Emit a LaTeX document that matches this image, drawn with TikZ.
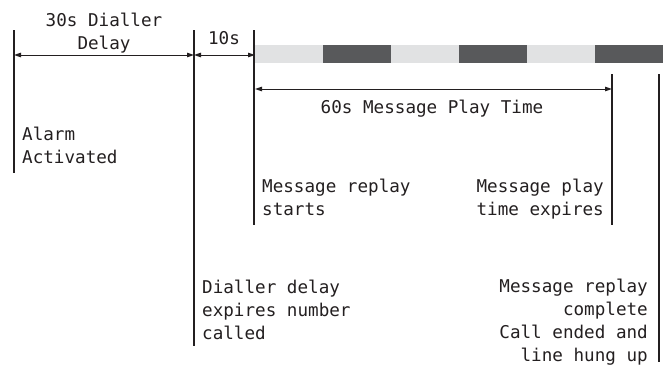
\documentclass[tikz,border=0pt]{standalone}
\usepackage{fontspec}
\setmonofont{DejaVu Sans Mono}
\usetikzlibrary{arrows.meta}
\definecolor{ink}{HTML}{231F20}
\definecolor{lightseg}{HTML}{E1E2E3}
\definecolor{darkseg}{HTML}{58595B}
\tikzset{
  vline/.style={draw=ink, line width=1.3pt},
  dim/.style={draw=ink, line width=1pt, {Triangle[length=7pt,width=4.5pt]}-{Triangle[length=7pt,width=4.5pt]}},
  dimr/.style={draw=ink, line width=1pt, {Triangle[length=7pt,width=4.5pt]}-{Triangle[length=7pt,width=4.5pt]}},
  lbl/.style={inner sep=0pt, text=ink, font=\ttfamily\fontsize{17.6}{23}\selectfont},
  lseg/.style={fill=lightseg, draw=none},
  dseg/.style={fill=darkseg, draw=none}
}
\begin{document}
\begin{tikzpicture}[x=1pt,y=-1pt]
\useasboundingbox (0,0) rectangle (666,367);
% vertical marker lines
\coordinate (a1) at (14,30);  \coordinate (a2) at (14,173);
\coordinate (b1) at (194,30); \coordinate (b2) at (194,346);
\coordinate (c1) at (254,30); \coordinate (c2) at (254,225);
\coordinate (d1) at (612,74); \coordinate (d2) at (612,225);
\coordinate (e1) at (659,74); \coordinate (e2) at (659,362);
\draw[vline] (a1) -- (a2);
\draw[vline] (b1) -- (b2);
\draw[vline] (c1) -- (c2);
\draw[vline] (d1) -- (d2);
\draw[vline] (e1) -- (e2);
% message bar
\foreach \i/\s in {0/lseg,1/dseg,2/lseg,3/dseg,4/lseg,5/dseg}{
  \path[\s] (255+68*\i,45) rectangle (255+68*\i+68,63);
}
% dimension arrows
\coordinate (p1) at (14,55);  \coordinate (p2) at (194,55); \coordinate (p3) at (255,55);
\draw[dim] (p1) -- (p2);
\draw[dim] (p2) -- (p3);
\coordinate (q1) at (255,89); \coordinate (q2) at (612,89);
\draw[dim] (q1) -- (q2);
% labels
\node[lbl, anchor=north, align=center] (delay) at (104,12.5) {30s Dialler\\Delay};
\node[lbl, anchor=north] (ten) at (224,31.5) {10s};
\node[lbl, anchor=north] (sixty) at (432,99.5) {60s Message Play Time};
\node[lbl, anchor=north west, align=left] (alarm) at (22,126.5) {Alarm\\Activated};
\node[lbl, anchor=north west, align=left] (mrs) at (262,178.5) {Message replay\\starts};
\node[lbl, anchor=north east, align=right] (mpt) at (604,178.5) {Message play\\time expires};
\node[lbl, anchor=north west, align=left] (dde) at (202,279.5) {Dialler delay\\expires number\\called};
\node[lbl, anchor=north east, align=right] (mrc) at (648,278.5) {Message replay\\complete\\Call ended and\\line hung up};
\end{tikzpicture}
\end{document}
